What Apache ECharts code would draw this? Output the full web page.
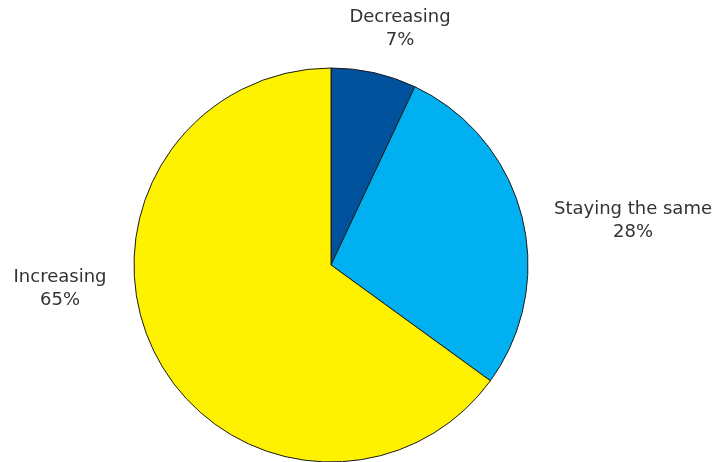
<!DOCTYPE html>
<html lang="en">
<head>
  <meta charset="UTF-8">
  <title>Pie</title>
  <script src="https://cdn.jsdelivr.net/npm/echarts@6/dist/echarts.min.js"></script>
  <style>
    html, body { margin: 0; padding: 0; background: #fff; }
    #main { width: 718px; height: 462px; }
  </style>
</head>
<body>
<div id="main"></div>
<script>
  // data
  var categories = ['Decreasing', 'Staying the same', 'Increasing'];
  var shares = [7, 28, 65];
  var colors = ['#00529c', '#00b0f0', '#fff200'];
  // where each label sits (label centre, px)
  var labelSpots = [[400, 29], [633, 221], [60, 289]];

  var chart = echarts.init(document.getElementById('main'));

  var option = {
    animation: false,
    series: [{
      type: 'pie',
      center: [331, 265],
      radius: 197,
      startAngle: 90,
      clockwise: true,
      data: categories.map(function (c, i) {
        return { name: c, value: shares[i], itemStyle: { color: colors[i] } };
      }),
      itemStyle: { borderColor: '#1a1a1a', borderWidth: 1 },
      label: {
        show: true,
        position: 'outside',
        formatter: '{b}\n{d}%',
        fontFamily: 'DejaVu Sans',
        fontSize: 18,
        lineHeight: 23,
        color: '#333',
        align: 'center',
        overflow: 'none'
      },
      labelLine: { show: false },
      labelLayout: function (p) {
        var s = labelSpots[p.dataIndex];
        return { x: s[0], y: s[1], align: 'center', verticalAlign: 'middle' };
      },
      emphasis: { disabled: true }
    }]
  };

  chart.setOption(option);
</script>
</body>
</html>
